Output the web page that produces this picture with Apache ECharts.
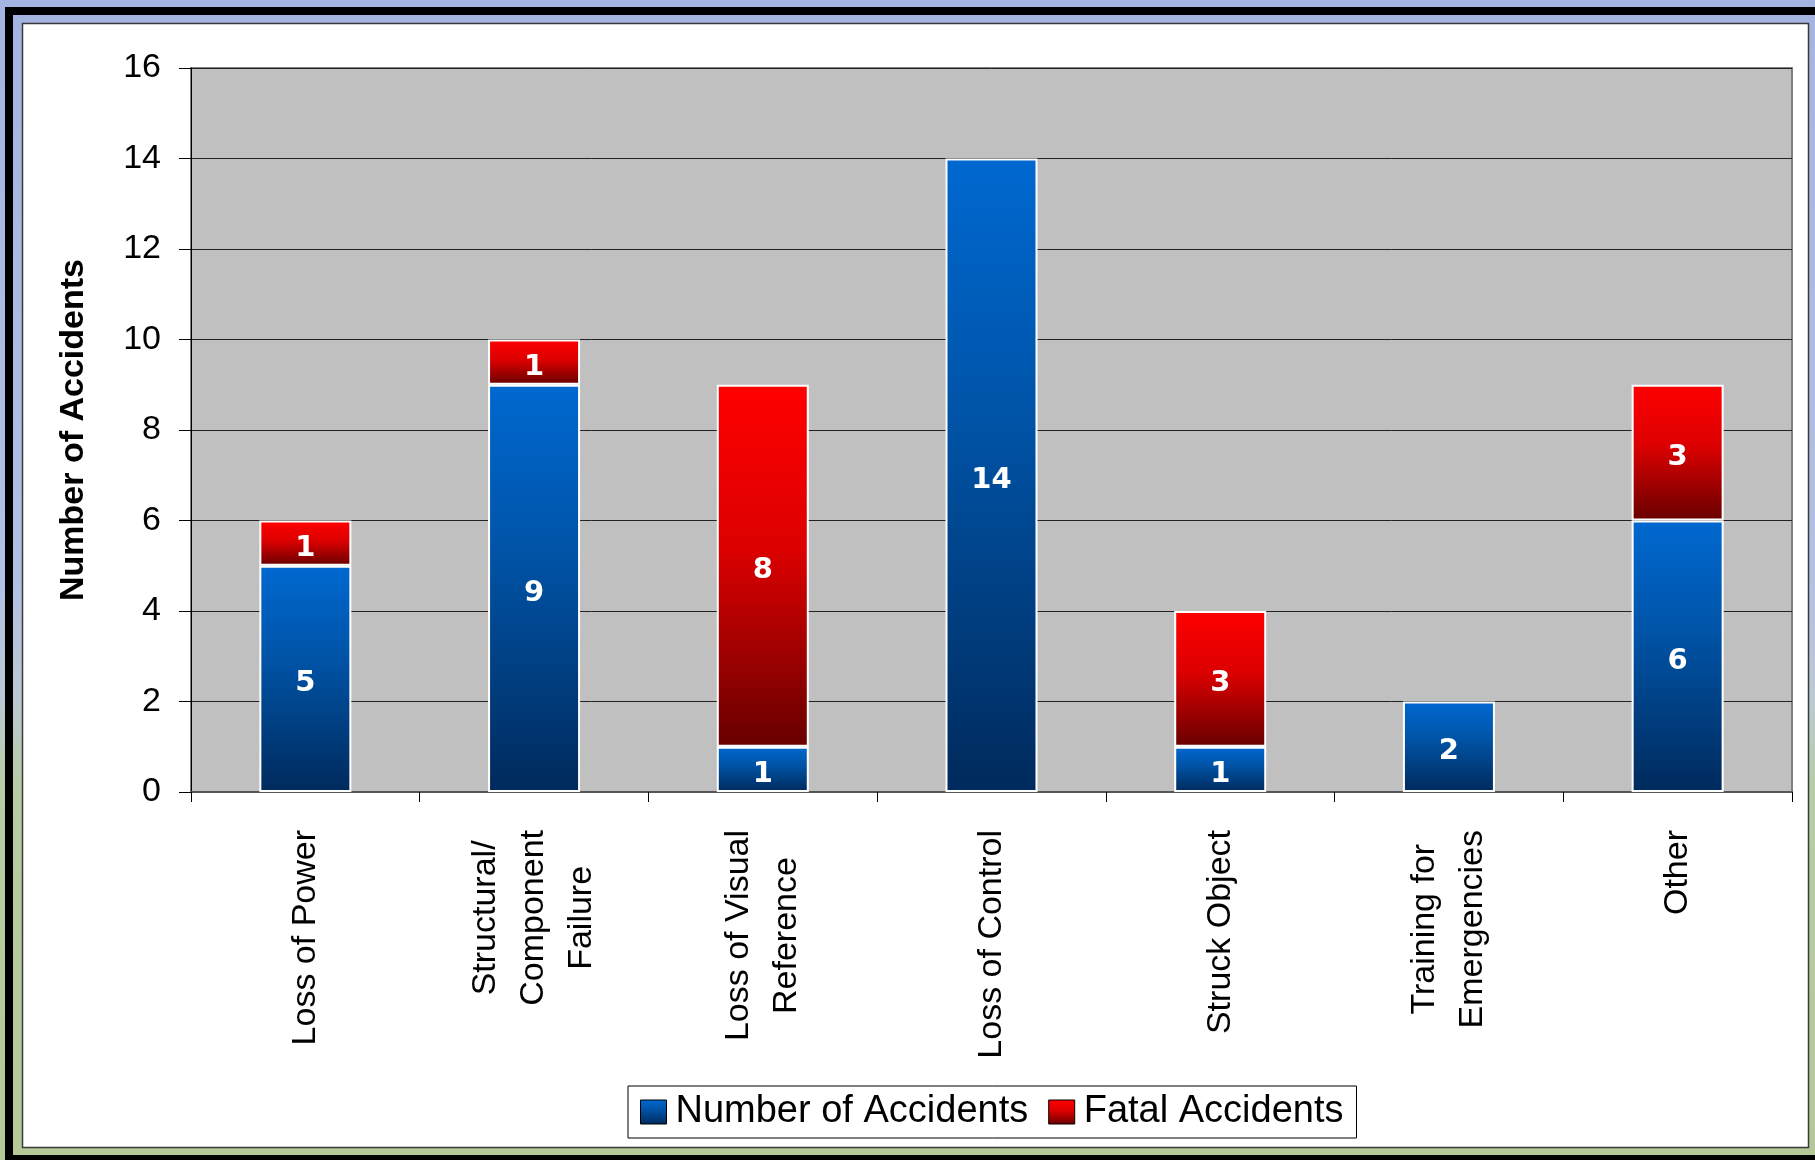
<!DOCTYPE html>
<html>
<head>
<meta charset="utf-8">
<title>Accidents by Cause</title>
<script src="https://cdn.jsdelivr.net/npm/echarts@6/dist/echarts.min.js"></script>
<style>
  html, body { margin: 0; padding: 0; background: #ffffff; }
  #chart { width: 1815px; height: 1160px; }
</style>
</head>
<body>
<div id="chart"></div>
<script>
// Accident causes (category axis) and counts per series
const categories = [
  'Loss of Power',
  'Structural/\nComponent\nFailure',
  'Loss of Visual\nReference',
  'Loss of Control',
  'Struck Object',
  'Training for\nEmergencies',
  'Other'
];
const accidents = [5, 9, 1, 14, 1, 2, 6];
const fatalAccidents = [1, 1, 8, 0, 3, 0, 3];

// Value axis range
const yMin = 0;
const yMax = 16;
const yStep = 2;

const FONT = '"Liberation Sans", Arial, sans-serif';

const blueFill = new echarts.graphic.LinearGradient(0, 0, 0, 1, [
  { offset: 0, color: '#0068d0' },
  { offset: 0.4, color: '#0054a8' },
  { offset: 1, color: '#002a5c' }
]);
const redFill = new echarts.graphic.LinearGradient(0, 0, 0, 1, [
  { offset: 0, color: '#ff0000' },
  { offset: 0.45, color: '#dc0000' },
  { offset: 1, color: '#680000' }
]);

const barLabel = {
  show: true,
  position: 'inside',
  offset: [0, 5],
  color: '#ffffff',
  fontFamily: '"DejaVu Sans", Verdana, sans-serif',
  fontWeight: 'bold',
  fontSize: 29,
  textBorderWidth: 0,
  formatter: p => String(p.value)
};

const chart = echarts.init(document.getElementById('chart'), null, { renderer: 'canvas' });

chart.setOption({
  animation: false,
  backgroundColor: 'transparent',
  graphic: [
    // slide backdrop
    {
      type: 'rect', z: -10, silent: true,
      shape: { x: 0, y: 0, width: 1815, height: 1160 },
      style: {
        fill: new echarts.graphic.LinearGradient(0, 0, 0, 1, [
          { offset: 0, color: '#a4b4e0' },
          { offset: 0.5, color: '#b2c0e4' },
          { offset: 0.6, color: '#bcc8d4' },
          { offset: 0.68, color: '#b8cca4' },
          { offset: 1, color: '#b4c898' }
        ])
      }
    },
    // black frame strokes
    { type: 'rect', z: -9, silent: true, shape: { x: 5, y: 7, width: 1810, height: 8 }, style: { fill: '#000' } },
    { type: 'rect', z: -9, silent: true, shape: { x: 5, y: 7, width: 8, height: 1153 }, style: { fill: '#000' } },
    { type: 'rect', z: -9, silent: true, shape: { x: 5, y: 1155, width: 1810, height: 5 }, style: { fill: '#000' } },
    // white chart panel
    {
      type: 'rect', z: -8, silent: true,
      shape: { x: 22.5, y: 23.5, width: 1786, height: 1124 },
      style: { fill: '#ffffff', stroke: '#3a3a3a', lineWidth: 1.5 }
    }
  ],
  grid: {
    left: 191,
    top: 68,
    width: 1601,
    height: 724,
    show: true,
    backgroundColor: '#c0c0c0',
    borderColor: '#808080',
    borderWidth: 2,
    containLabel: false
  },
  legend: {
    left: 628,
    top: 1086,
    orient: 'horizontal',
    padding: [7, 13, 7, 12],
    borderColor: '#000000',
    borderWidth: 1,
    backgroundColor: '#ffffff',
    itemWidth: 26,
    itemHeight: 24,
    itemGap: 20,
    icon: 'rect',
    itemStyle: { borderColor: '#000000', borderWidth: 1 },
    textStyle: { fontFamily: FONT, fontSize: 38, color: '#000000', padding: [0, 0, 0, 4] },
    data: ['Number of Accidents', 'Fatal Accidents']
  },
  xAxis: {
    type: 'category',
    data: categories,
    axisLine: { show: true, lineStyle: { color: '#555555', width: 2 } },
    axisTick: { show: true, length: 10, lineStyle: { color: '#000000', width: 1 } },
    axisLabel: {
      interval: 0,
      rotate: 90,
      margin: 38,
      color: '#000000',
      fontFamily: FONT,
      fontSize: 34,
      lineHeight: 48,
      formatter: v => v.split('\n').map(line => '{c|' + line + '}').join('\n'),
      rich: {
        c: { align: 'center', fontFamily: FONT, fontSize: 34, lineHeight: 48, color: '#000000' }
      }
    },
    splitLine: { show: false }
  },
  yAxis: {
    type: 'value',
    min: yMin,
    max: yMax,
    interval: yStep,
    name: 'Number of Accidents',
    nameLocation: 'middle',
    nameGap: 100,
    nameTextStyle: { fontFamily: FONT, fontSize: 34, fontWeight: 'bold', color: '#000000' },
    axisLine: { show: true, lineStyle: { color: '#000000', width: 1 } },
    axisTick: { show: true, length: 12, lineStyle: { color: '#000000', width: 1 } },
    axisLabel: { margin: 30, color: '#000000', fontFamily: FONT, fontSize: 34 },
    splitLine: { show: true, lineStyle: { color: '#222222', width: 1 } }
  },
  series: [
    {
      name: 'Number of Accidents',
      type: 'bar',
      stack: 'total',
      barWidth: 92,
      data: accidents.map(v => (v > 0 ? v : null)),
      itemStyle: { color: blueFill, borderColor: '#ffffff', borderWidth: 2 },
      label: barLabel
    },
    {
      name: 'Fatal Accidents',
      type: 'bar',
      stack: 'total',
      barWidth: 92,
      data: fatalAccidents.map(v => (v > 0 ? v : null)),
      itemStyle: { color: redFill, borderColor: '#ffffff', borderWidth: 2 },
      label: barLabel
    }
  ]
});
</script>
</body>
</html>
